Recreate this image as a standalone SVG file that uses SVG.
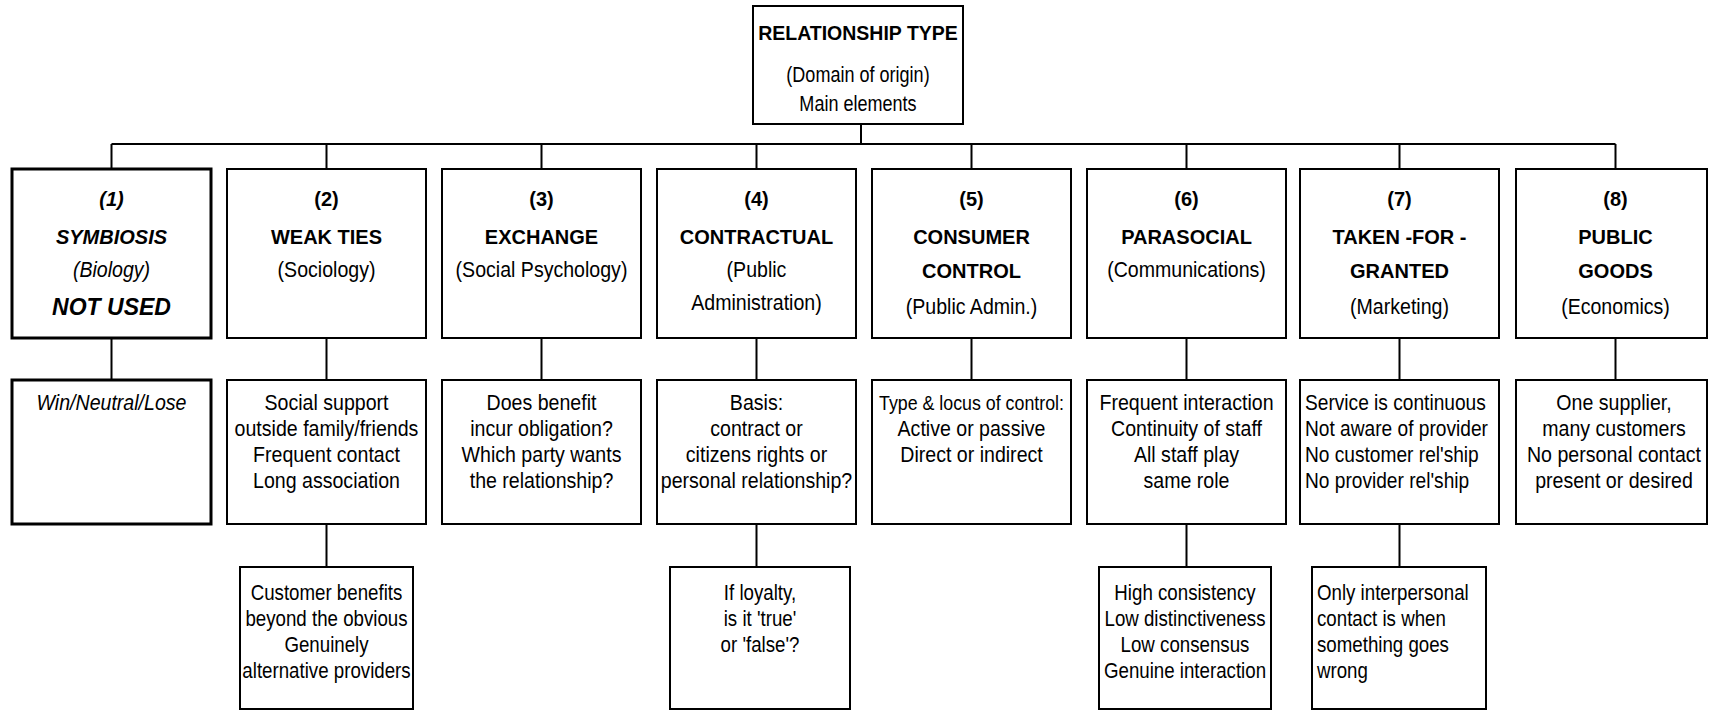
<svg xmlns="http://www.w3.org/2000/svg" width="1709" height="711" viewBox="0 0 1709 711">
<style>
  .box { fill: #fff; stroke: #000; stroke-width: 2; }
  .thick { stroke-width: 3; }
  .conn { fill: none; stroke: #000; stroke-width: 2; }
  text { font-family: "Liberation Sans", Arial, sans-serif; fill: #000; }
  .h { font-weight: bold; font-size: 20px; text-anchor: middle; }
  .t { font-size: 22px; text-anchor: middle; }
  .l { font-size: 22px; text-anchor: start; }
  .i { font-style: italic; }
  .big { font-size: 23px; }
</style>
<rect width="1709" height="711" fill="#fff"/>
<g id="connectors">
  <path class="conn" d="M861 124 V144 M111.5 144 H1615.5"/>
  <path class="conn" d="M111.5 144 V169 M326.5 144 V169 M541.5 144 V169 M756.5 144 V169 M971.5 144 V169 M1186.5 144 V169 M1399.5 144 V169 M1615.5 144 V169"/>
  <path class="conn" d="M111.5 338 V380 M326.5 338 V380 M541.5 338 V380 M756.5 338 V380 M971.5 338 V380 M1186.5 338 V380 M1399.5 338 V380 M1615.5 338 V380"/>
  <path class="conn" d="M326.5 524 V567 M756.5 524 V567 M1186.5 524 V567 M1399.5 524 V567"/>
</g>
<g id="root">
  <rect class="box" x="753" y="6" width="210" height="118"/>
  <text class="h" x="858" y="40" style="font-size:19.5px">RELATIONSHIP TYPE</text>
  <g transform="translate(858 0) scale(0.82 1)">
    <text class="t" x="0" y="82">(Domain of origin)</text>
    <text class="t" x="0" y="111">Main elements</text>
  </g>
</g>
<g id="n1">
  <rect class="box thick" x="12" y="169" width="199" height="169"/>
  <text class="h i" x="111.5" y="206">(1)</text>
  <text class="h i" x="111.5" y="244">SYMBIOSIS</text>
  <g transform="translate(111.5 0) scale(0.89 1)">
    <text class="t i" x="0" y="277">(Biology)</text>
  </g>
  <text class="h i big" x="111.5" y="315">NOT USED</text>
</g>
<g id="n2">
  <rect class="box" x="227" y="169" width="199" height="169"/>
  <text class="h" x="326.5" y="206">(2)</text>
  <text class="h" x="326.5" y="244">WEAK TIES</text>
  <g transform="translate(326.5 0) scale(0.89 1)">
    <text class="t" x="0" y="277">(Sociology)</text>
  </g>
</g>
<g id="n3">
  <rect class="box" x="442" y="169" width="199" height="169"/>
  <text class="h" x="541.5" y="206">(3)</text>
  <text class="h" x="541.5" y="244">EXCHANGE</text>
  <g transform="translate(541.5 0) scale(0.89 1)">
    <text class="t" x="0" y="277">(Social Psychology)</text>
  </g>
</g>
<g id="n4">
  <rect class="box" x="657" y="169" width="199" height="169"/>
  <text class="h" x="756.5" y="206">(4)</text>
  <text class="h" x="756.5" y="244">CONTRACTUAL</text>
  <g transform="translate(756.5 0) scale(0.89 1)">
    <text class="t" x="0" y="277">(Public</text>
    <text class="t" x="0" y="310">Administration)</text>
  </g>
</g>
<g id="n5">
  <rect class="box" x="872" y="169" width="199" height="169"/>
  <text class="h" x="971.5" y="206">(5)</text>
  <text class="h" x="971.5" y="244">CONSUMER</text>
  <text class="h" x="971.5" y="278">CONTROL</text>
  <g transform="translate(971.5 0) scale(0.89 1)">
    <text class="t" x="0" y="314">(Public Admin.)</text>
  </g>
</g>
<g id="n6">
  <rect class="box" x="1087" y="169" width="199" height="169"/>
  <text class="h" x="1186.5" y="206">(6)</text>
  <text class="h" x="1186.5" y="244">PARASOCIAL</text>
  <g transform="translate(1186.5 0) scale(0.89 1)">
    <text class="t" x="0" y="277">(Communications)</text>
  </g>
</g>
<g id="n7">
  <rect class="box" x="1300" y="169" width="199" height="169"/>
  <text class="h" x="1399.5" y="206">(7)</text>
  <text class="h" x="1399.5" y="244">TAKEN -FOR -</text>
  <text class="h" x="1399.5" y="278">GRANTED</text>
  <g transform="translate(1399.5 0) scale(0.89 1)">
    <text class="t" x="0" y="314">(Marketing)</text>
  </g>
</g>
<g id="n8">
  <rect class="box" x="1516" y="169" width="191" height="169"/>
  <text class="h" x="1615.5" y="206">(8)</text>
  <text class="h" x="1615.5" y="244">PUBLIC</text>
  <text class="h" x="1615.5" y="278">GOODS</text>
  <g transform="translate(1615.5 0) scale(0.89 1)">
    <text class="t" x="0" y="314">(Economics)</text>
  </g>
</g>
<g id="e1">
  <rect class="box thick" x="12" y="380" width="199" height="144"/>
  <g transform="translate(111.5 0) scale(0.89 1)">
    <text class="t i" x="0" y="410">Win/Neutral/Lose</text>
  </g>
</g>
<g id="e2">
  <rect class="box" x="227" y="380" width="199" height="144"/>
  <g transform="translate(326.5 0) scale(0.89 1)">
    <text class="t" x="0" y="410">Social support</text>
    <text class="t" x="0" y="436">outside family/friends</text>
    <text class="t" x="0" y="462">Frequent contact</text>
    <text class="t" x="0" y="488">Long association</text>
  </g>
</g>
<g id="e3">
  <rect class="box" x="442" y="380" width="199" height="144"/>
  <g transform="translate(541.5 0) scale(0.89 1)">
    <text class="t" x="0" y="410">Does benefit</text>
    <text class="t" x="0" y="436">incur obligation?</text>
    <text class="t" x="0" y="462">Which party wants</text>
    <text class="t" x="0" y="488">the relationship?</text>
  </g>
</g>
<g id="e4">
  <rect class="box" x="657" y="380" width="199" height="144"/>
  <g transform="translate(756.5 0) scale(0.89 1)">
    <text class="t" x="0" y="410">Basis:</text>
    <text class="t" x="0" y="436">contract or</text>
    <text class="t" x="0" y="462">citizens rights or</text>
    <text class="t" x="0" y="488">personal relationship?</text>
  </g>
</g>
<g id="e5">
  <rect class="box" x="872" y="380" width="199" height="144"/>
  <g transform="translate(971.5 0) scale(0.89 1)">
    <text class="t" x="0" y="410" style="font-size:20px">Type &amp; locus of control:</text>
    <text class="t" x="0" y="436">Active or passive</text>
    <text class="t" x="0" y="462">Direct or indirect</text>
  </g>
</g>
<g id="e6">
  <rect class="box" x="1087" y="380" width="199" height="144"/>
  <g transform="translate(1186.5 0) scale(0.89 1)">
    <text class="t" x="0" y="410">Frequent interaction</text>
    <text class="t" x="0" y="436">Continuity of staff</text>
    <text class="t" x="0" y="462">All staff play</text>
    <text class="t" x="0" y="488">same role</text>
  </g>
</g>
<g id="e7">
  <rect class="box" x="1300" y="380" width="199" height="144"/>
  <g transform="translate(1305 0) scale(0.87 1)">
    <text class="l" x="0" y="410">Service is continuous</text>
    <text class="l" x="0" y="436">Not aware of provider</text>
    <text class="l" x="0" y="462">No customer rel'ship</text>
    <text class="l" x="0" y="488">No provider rel'ship</text>
  </g>
</g>
<g id="e8">
  <rect class="box" x="1516" y="380" width="191" height="144"/>
  <g transform="translate(1614 0) scale(0.89 1)">
    <text class="t" x="0" y="410">One supplier,</text>
    <text class="t" x="0" y="436">many customers</text>
    <text class="t" x="0" y="462">No personal contact</text>
    <text class="t" x="0" y="488">present or desired</text>
  </g>
</g>
<g id="f2">
  <rect class="box" x="240" y="567" width="173" height="142"/>
  <g transform="translate(326.5 0) scale(0.85 1)">
    <text class="t" x="0" y="600">Customer benefits</text>
    <text class="t" x="0" y="626">beyond the obvious</text>
    <text class="t" x="0" y="652">Genuinely</text>
    <text class="t" x="0" y="678">alternative providers</text>
  </g>
</g>
<g id="f4">
  <rect class="box" x="670" y="567" width="180" height="142"/>
  <g transform="translate(760 0) scale(0.85 1)">
    <text class="t" x="0" y="600">If loyalty,</text>
    <text class="t" x="0" y="626">is it 'true'</text>
    <text class="t" x="0" y="652">or 'false'?</text>
  </g>
</g>
<g id="f6">
  <rect class="box" x="1099" y="567" width="172" height="142"/>
  <g transform="translate(1185 0) scale(0.85 1)">
    <text class="t" x="0" y="600">High consistency</text>
    <text class="t" x="0" y="626">Low distinctiveness</text>
    <text class="t" x="0" y="652">Low consensus</text>
    <text class="t" x="0" y="678">Genuine interaction</text>
  </g>
</g>
<g id="f7">
  <rect class="box" x="1312" y="567" width="174" height="142"/>
  <g transform="translate(1317 0) scale(0.85 1)">
    <text class="l" x="0" y="600">Only interpersonal</text>
    <text class="l" x="0" y="626">contact is when</text>
    <text class="l" x="0" y="652">something goes</text>
    <text class="l" x="0" y="678">wrong</text>
  </g>
</g>
</svg>
